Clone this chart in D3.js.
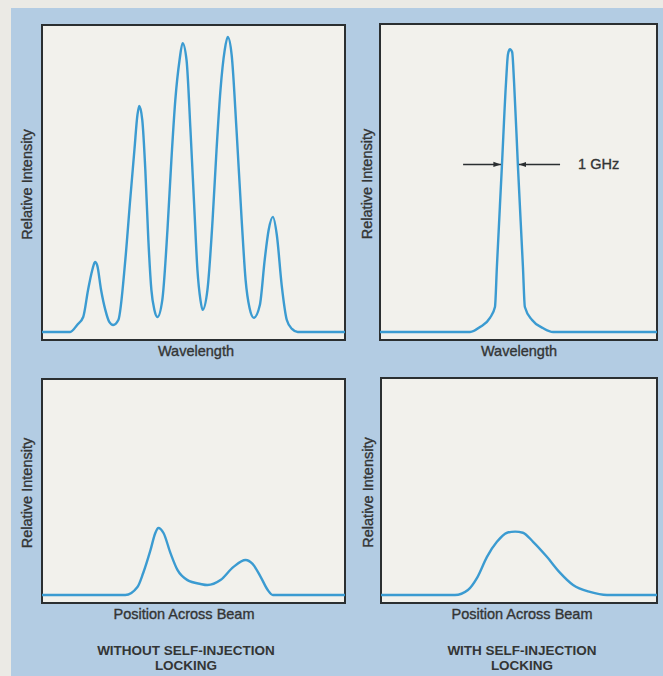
<!DOCTYPE html>
<html>
<head>
<meta charset="utf-8">
<script src="https://cdn.jsdelivr.net/npm/d3@7"></script>
<style>
  html, body { margin: 0; padding: 0; background: #ebeae5; }
  svg { display: block; }
  text { font-family: "Liberation Sans", Arial, Helvetica, sans-serif; fill: #333535; }
  text.label { stroke: #333535; stroke-width: 0.35px; }
</style>
</head>
<body>
<svg id="chart" width="663" height="676"></svg>
<script>
// Spectral output without self-injection locking: five longitudinal modes
const spectrumFree = [
  [0, 0], [9.3, 0], [11.6, 2.3], [13.6, 4.9], [15.2, 13.7], [16.6, 20.2], [17.5, 22.8],
  [18.2, 21.8], [19.5, 13.7], [20.9, 7.2], [22.2, 3.3], [23.5, 2.3],
  [25.2, 3.9], [27.5, 23.5], [29.1, 43.0], [30.5, 59.3], [31.5, 70.7], [32.1, 73.6],
  [33.1, 69.0], [34.1, 52.8], [35.1, 30.0], [36.1, 13.7], [37.1, 7.2], [38.1, 4.9],
  [39.7, 10.4], [41.4, 33.2], [42.7, 56.0], [44.0, 75.6], [45.4, 88.6], [46.4, 94.1],
  [47.7, 88.6], [49.0, 65.8], [50.3, 39.7], [51.3, 20.2], [52.3, 10.4], [53.0, 7.2],
  [54.6, 13.7], [56.3, 36.5], [57.6, 59.3], [58.9, 78.8], [60.3, 91.8], [61.3, 96.1],
  [62.6, 90.2], [64.2, 65.8], [65.9, 36.5], [67.2, 16.9], [68.5, 7.8], [69.9, 4.6],
  [71.9, 8.8], [73.5, 23.5], [74.8, 33.2], [76.2, 37.5],
  [77.5, 31.6], [79.1, 15.3], [80.8, 3.9], [82.5, 1.0], [84.4, 0], [100, 0]
];

// Spectral output with self-injection locking: a single narrow line
const spectrumLocked = [
  [0, 0], [32.5, 0], [36.1, 1.6], [39.7, 4.6], [41.5, 8.1], [42.2, 21.2], [44.0, 53.7],
  [45.5, 81.1], [46.2, 90.2], [46.9, 91.8], [47.7, 90.9], [48.4, 81.1], [49.8, 53.7],
  [51.6, 21.2], [52.3, 8.1], [54.9, 3.9], [58.8, 1.3], [62.5, 0], [100, 0]
];

// Near-field intensity across the beam
const beamFree = [
  [0, 0], [27.5, 0], [31.5, 3.7], [33.4, 10.2], [35.8, 20.8], [37.4, 28.7], [38.4, 31.0],
  [40.1, 28.7], [42.4, 19.4], [44.7, 11.6], [48.0, 6.9], [52.3, 5.1], [54.6, 4.6],
  [58.9, 6.9], [63.2, 13.0], [67.2, 16.2], [69.5, 14.4], [72.2, 8.3], [74.5, 2.3],
  [76.2, 0], [100, 0]
];

const beamLocked = [
  [0, 0], [26.8, 0], [31.5, 2.3], [34.8, 7.9], [38.4, 17.6], [42.0, 24.5], [45.7, 28.7],
  [48.6, 29.2], [51.4, 28.7], [55.1, 24.5], [60.1, 17.6], [64.9, 10.2], [69.6, 4.6],
  [75.7, 1.4], [81.9, 0], [100, 0]
];

// Linewidth marker: left tip, right tip, height (data units)
const linewidthMarker = { left: 44.0, right: 49.8, level: 54.4, tailLeft: 30.0, tailRight: 65.0 };
const linewidthLabel = "1 GHz";

const yLabel = "Relative Intensity";
const xLabels = ["Wavelength", "Wavelength", "Position Across Beam", "Position Across Beam"];
const captionLeft = ["WITHOUT SELF-INJECTION", "LOCKING"];
const captionRight = ["WITH SELF-INJECTION", "LOCKING"];

const svg = d3.select("#chart");

// light blue backing card
svg.append("rect").attr("x", 11).attr("y", 8).attr("width", 652).attr("height", 668)
  .attr("fill", "#b3cce3");

const panels = [
  { data: spectrumFree,   x0: 42,  x1: 345, top: 25,  base: 332, bottom: 340, xl: 196, yl: 27 },
  { data: spectrumLocked, x0: 380, x1: 657, top: 24,  base: 332, bottom: 340, xl: 519, yl: 367 },
  { data: beamFree,       x0: 42,  x1: 345, top: 379, base: 595, bottom: 603, xl: 184, yl: 27 },
  { data: beamLocked,     x0: 381, x1: 657, top: 378, base: 595, bottom: 603, xl: 522, yl: 368 }
];

panels.forEach((p, i) => {
  const x = d3.scaleLinear().domain([0, 100]).range([p.x0, p.x1]);
  const y = d3.scaleLinear().domain([0, 100]).range([p.base, p.top]);
  p.x = x; p.y = y;

  const g = svg.append("g");
  g.append("rect")
    .attr("x", p.x0).attr("y", p.top)
    .attr("width", p.x1 - p.x0).attr("height", p.bottom - p.top)
    .attr("fill", "#f2f1ec").attr("stroke", "#2b2f31").attr("stroke-width", 2);

  const line = d3.line()
    .x(d => x(d[0])).y(d => y(d[1]))
    .curve(d3.curveMonotoneX);

  g.append("path").datum(p.data)
    .attr("d", line)
    .attr("fill", "none")
    .attr("stroke", "#3b9bd1")
    .attr("stroke-width", 2.4)
    .attr("stroke-linejoin", "round");

  // axis titles
  g.append("text").attr("class", "label")
    .attr("transform", `translate(${p.yl + 5},${(p.top + p.bottom) / 2 + 2}) rotate(-90)`)
    .attr("text-anchor", "middle")
    .style("font-size", "14.5px")
    .text(yLabel);

  g.append("text").attr("class", "label")
    .attr("x", p.xl).attr("y", p.bottom + 16)
    .attr("text-anchor", "middle")
    .style("font-size", "14.5px")
    .text(xLabels[i]);
});

// arrows marking the locked linewidth
const defs = svg.append("defs");
defs.append("marker")
  .attr("id", "arrowhead")
  .attr("viewBox", "0 0 10 10").attr("refX", 10).attr("refY", 5)
  .attr("markerWidth", 5).attr("markerHeight", 5).attr("orient", "auto")
  .append("path").attr("d", "M0,1.5 L10,5 L0,8.5 Z").attr("fill", "#2b2f31");

const p2 = panels[1];
const ay = p2.y(linewidthMarker.level);
svg.append("line")
  .attr("x1", p2.x(linewidthMarker.tailLeft)).attr("x2", p2.x(linewidthMarker.left) - 1)
  .attr("y1", ay).attr("y2", ay)
  .attr("stroke", "#2b2f31").attr("stroke-width", 1.5).attr("marker-end", "url(#arrowhead)");
svg.append("line")
  .attr("x1", p2.x(linewidthMarker.tailRight)).attr("x2", p2.x(linewidthMarker.right) + 1)
  .attr("y1", ay).attr("y2", ay)
  .attr("stroke", "#2b2f31").attr("stroke-width", 1.5).attr("marker-end", "url(#arrowhead)");
svg.append("text").attr("class", "label")
  .attr("x", p2.x(linewidthMarker.tailRight) + 18).attr("y", ay + 5)
  .style("font-size", "14.5px")
  .text(linewidthLabel);

// captions under each column
function caption(lines, cx) {
  lines.forEach((t, k) => {
    svg.append("text")
      .attr("x", cx).attr("y", 655 + k * 15)
      .attr("text-anchor", "middle")
      .style("font-size", "13.5px").style("font-weight", "bold")
      .text(t);
  });
}
caption(captionLeft, 186);
caption(captionRight, 522);
</script>
</body>
</html>
